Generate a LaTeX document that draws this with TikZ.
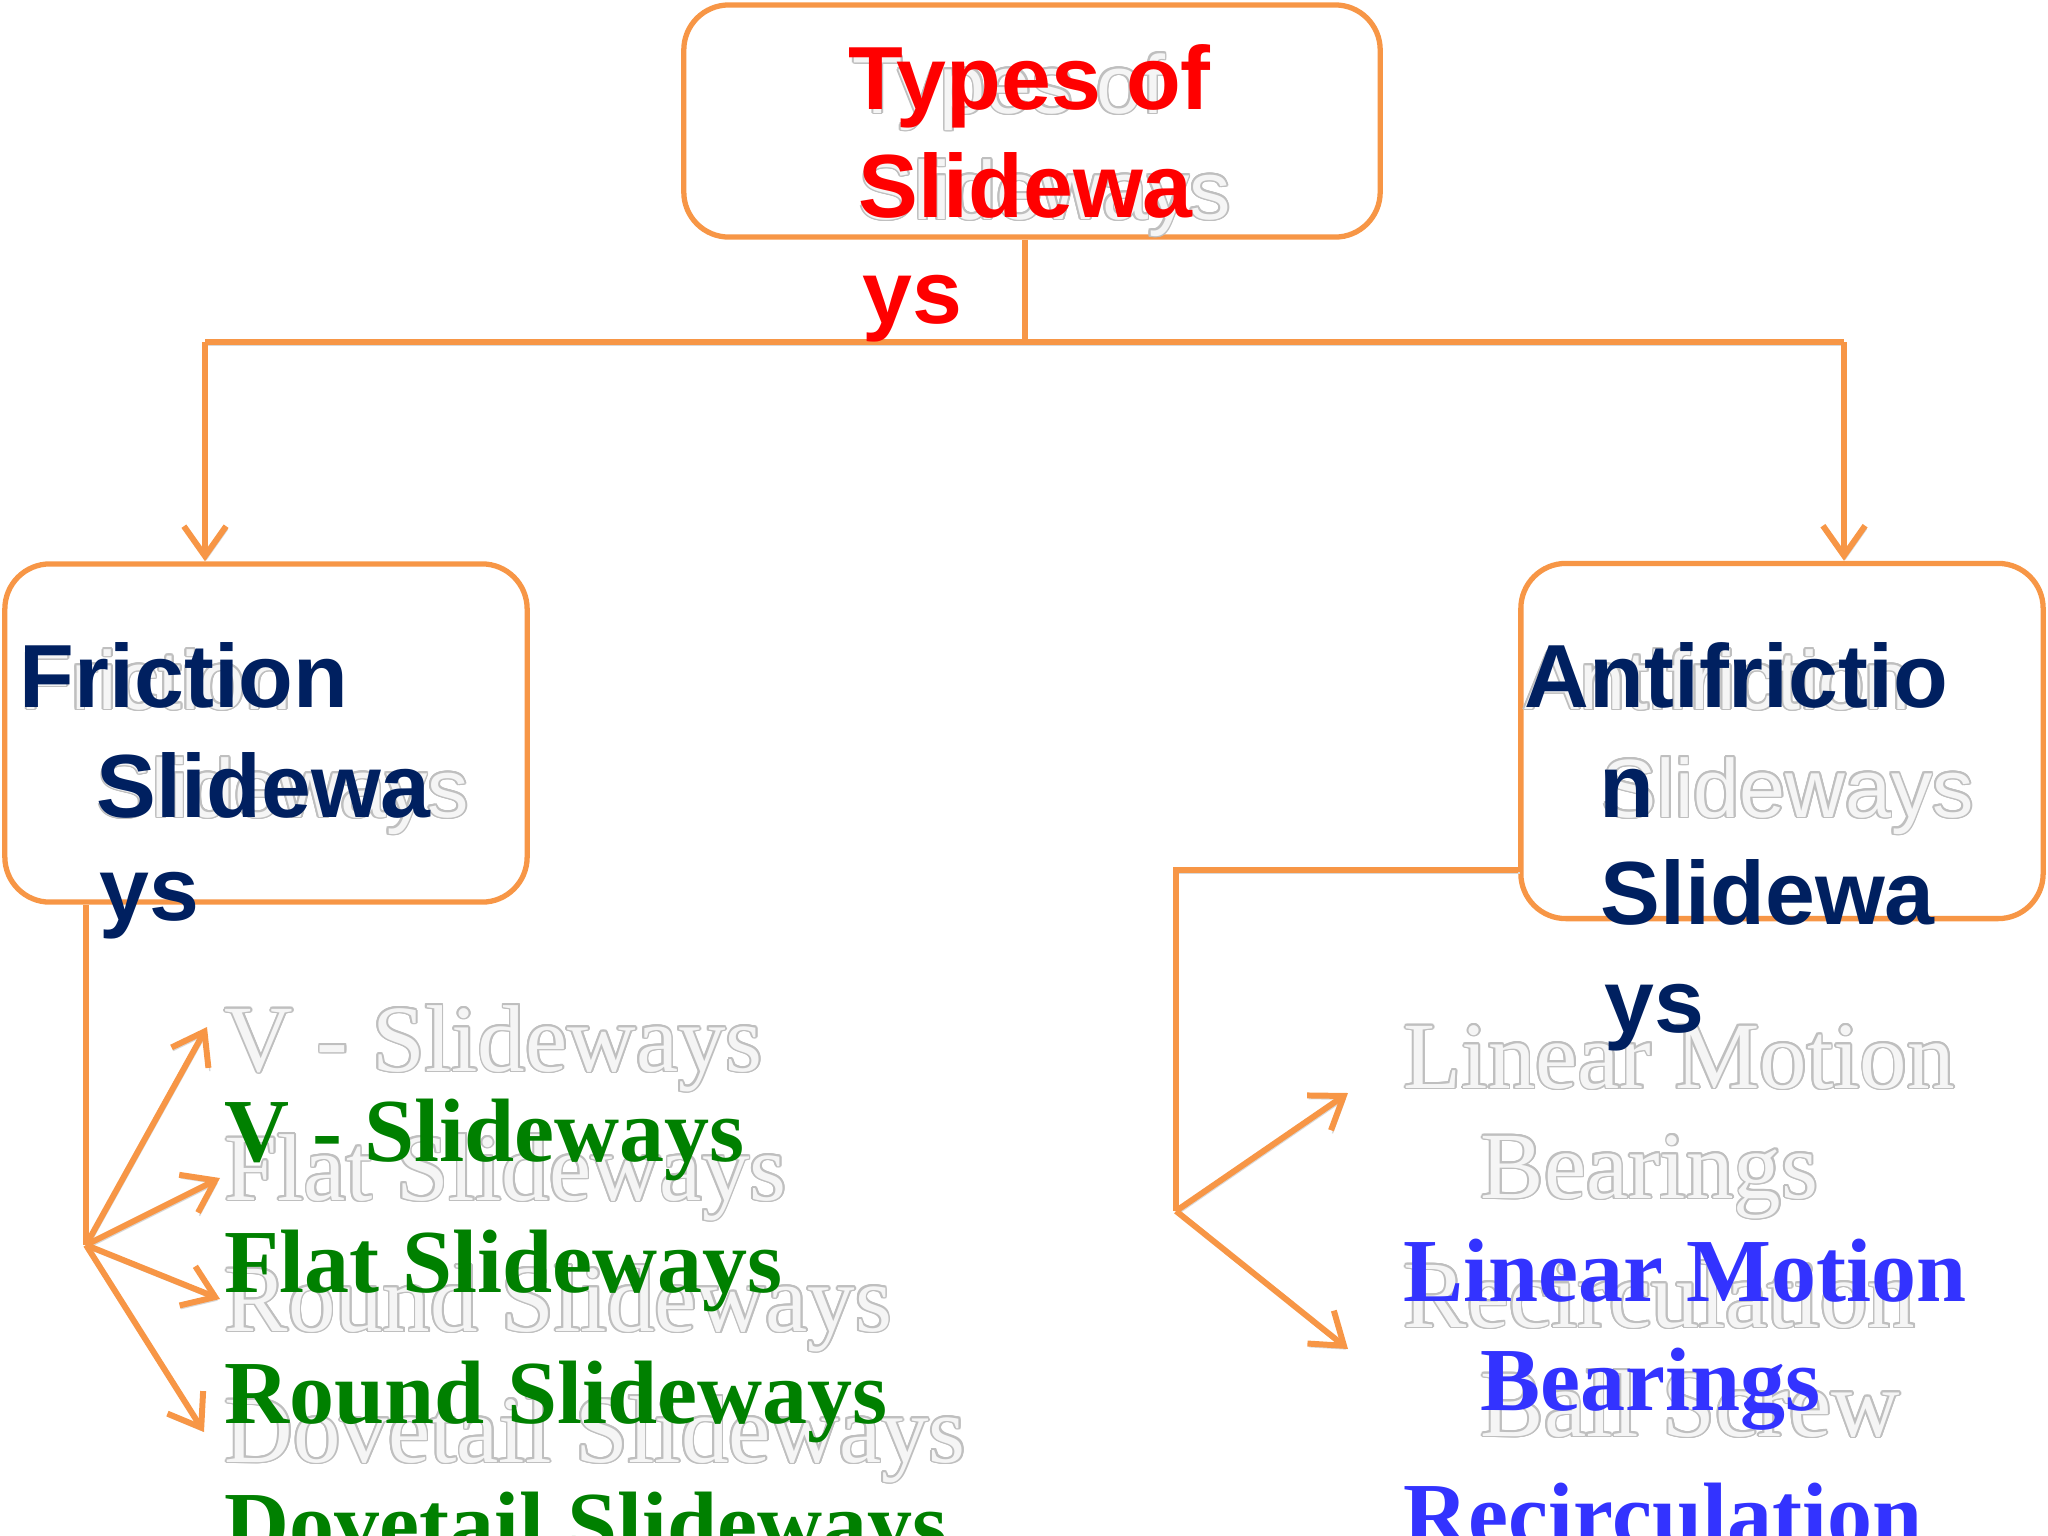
\documentclass[tikz,border=0pt]{standalone}
\usepackage{fontspec}
\setmainfont{Liberation Serif}
\newfontfamily\arialfont{Liberation Sans}
\usepackage{contour}
\contourlength{0.5pt}
\usetikzlibrary{arrows.meta}
\definecolor{orng}{HTML}{F79646}
\definecolor{navy}{HTML}{002060}
\definecolor{grn}{HTML}{008000}
\definecolor{blu}{HTML}{3333FF}
\newcommand{\gh}[1]{\contour{gray!50}{#1}}
\tikzset{
  box/.style={draw=orng, line width=1.5pt, rounded corners=0.45cm, fill=white, inner sep=0pt},
  link/.style={draw=orng, line width=1.7pt,
    preaction={draw=gray!30, transform canvas={xshift=0.4pt,yshift=-0.9pt}}},
  tip/.style={-{Straight Barb[length=8.5pt,width=12pt]}},
  txt/.style={anchor=base west, inner sep=0pt},
  head/.style={txt, font=\arialfont\bfseries\fontsize{25.5}{30}\selectfont},
  item/.style={txt, font=\bfseries\fontsize{25.6}{30}\selectfont},
  ghostsans/.style={txt, text=gray!8, font=\arialfont\fontsize{23.5}{28}\selectfont},
  ghostserif/.style={txt, text=gray!8, font=\fontsize{27}{32}\selectfont}
}
\begin{document}
\begin{tikzpicture}[x=0.01cm, y=-0.01cm]
\useasboundingbox (0,0) rectangle (2048,1536);
% boxes
\node[box, minimum width=6.96cm, minimum height=2.32cm] (top) at (1032,121) {};
\node[box, minimum width=5.22cm, minimum height=3.38cm] (fric) at (266,733) {};
\node[box, minimum width=5.22cm, minimum height=3.55cm] (anti) at (1782,741) {};
% faded text behind
\node[ghostsans] (gtop1) at (852,113) {\gh{Types of}};
\node[ghostsans] (gtop2) at (858,219) {\gh{Slideways}};
\node[ghostsans] (gfric1) at (20,709) {\gh{Friction}};
\node[ghostsans] (gfric2) at (96,817) {\gh{Slideways}};
\node[ghostsans] (ganti1) at (1524,709) {\gh{Antifriction}};
\node[ghostsans] (ganti2) at (1601,817) {\gh{Slideways}};
\node[ghostserif] (gv) at (224,1071) {\gh{V - Slideways}};
\node[ghostserif] (gflat) at (224,1200) {\gh{Flat Slideways}};
\node[ghostserif] (ground) at (224,1331) {\gh{Round Slideways}};
\node[ghostserif] (gdove) at (224,1462) {\gh{Dovetail Slideways}};
\node[ghostserif] (glin1) at (1403,1088) {\gh{Linear Motion}};
\node[ghostserif] (glin2) at (1480,1198) {\gh{Bearings}};
\node[ghostserif] (grec) at (1403,1327) {\gh{Recirculation}};
\node[ghostserif] (gball) at (1480,1436) {\gh{Ball Screw}};
% connectors
\coordinate (hub) at (1025,342);
\coordinate (jl) at (205,342);
\coordinate (jr) at (1844,342);
\draw[link] (top.south -| hub) -- (hub);
\draw[link] (jl) -- (jr);
\draw[link,tip] (jl) -- (jl |- fric.north);
\draw[link,tip] (jr) -- (jr |- anti.north);
% friction branch
\coordinate (lhub) at (86,1245);
\coordinate (v1) at (207,1027);
\coordinate (v2) at (220,1178);
\coordinate (v3) at (220,1299);
\coordinate (v4) at (204,1432);
\draw[link] (fric.south -| lhub) -- (lhub);
\draw[link,tip] (lhub) -- (v1);
\draw[link,tip] (lhub) -- (v2);
\draw[link,tip] (lhub) -- (v3);
\draw[link,tip] (lhub) -- (v4);
% antifriction branch
\coordinate (rk) at (1176,870);
\coordinate (rhub) at (1176,1211);
\coordinate (w1) at (1348,1093);
\coordinate (w2) at (1348,1349);
\draw[link] (anti.west |- rk) -- (rk) -- (rhub);
\draw[link,tip] (rhub) -- (w1);
\draw[link,tip] (rhub) -- (w2);
% titles
\node[head, text=red] (top1) at (848,109) {Types of};
\node[head, text=red] (top2) at (858,217) {Slidewa};
\node[head, text=red] (top3) at (862,323) {ys};
\node[head, text=navy] (fric1) at (19,707) {Friction};
\node[head, text=navy] (fric2) at (96,817) {Slidewa};
\node[head, text=navy] (fric3) at (99,920) {ys};
\node[head, text=navy] (anti1) at (1524,707) {Antifrictio};
\node[head, text=navy] (anti2) at (1599,817) {n};
\node[head, text=navy] (anti3) at (1600,924) {Slidewa};
\node[head, text=navy] (anti4) at (1604,1032) {ys};
% items
\node[item, text=grn] (v) at (224,1161) {V - Slideways};
\node[item, text=grn] (flat) at (224,1292) {Flat Slideways};
\node[item, text=grn] (round) at (224,1423) {Round Slideways};
\node[item, text=grn] (dove) at (224,1554) {Dovetail Slideways};
\node[item, text=blu] (lin1) at (1403,1301) {Linear Motion};
\node[item, text=blu] (lin2) at (1480,1410) {Bearings};
\node[item, text=blu] (rec) at (1403,1545) {Recirculation};
\end{tikzpicture}
\end{document}
